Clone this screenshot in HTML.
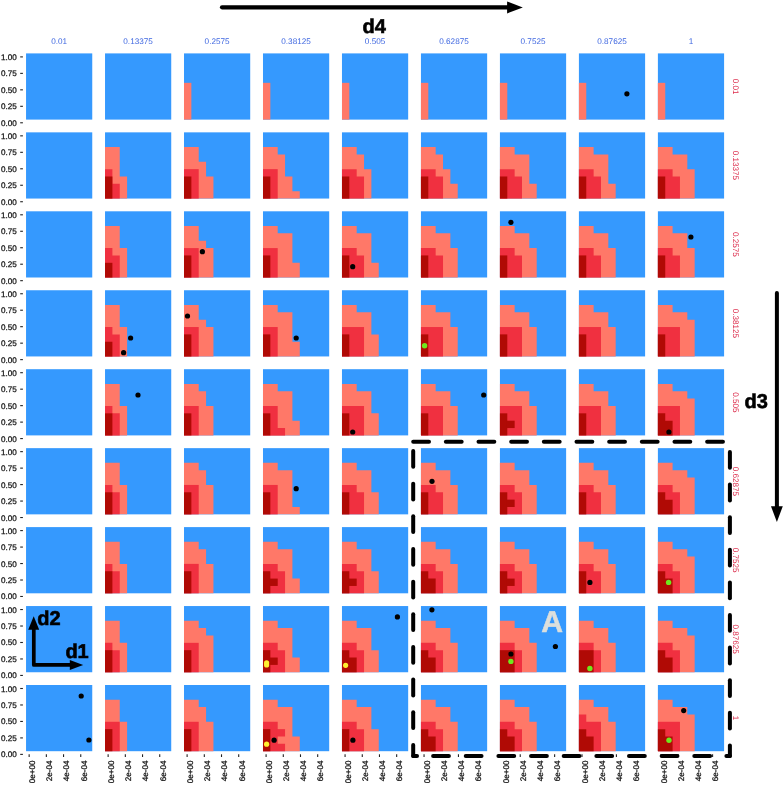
<!DOCTYPE html>
<html><head><meta charset="utf-8"><title>facet grid</title>
<style>html,body{margin:0;padding:0;background:#fff}svg{display:block}text{font-family:"Liberation Sans",Arial,Helvetica,sans-serif;text-rendering:geometricPrecision}</style></head>
<body>
<svg width="784" height="785" viewBox="0 0 784 785">
<rect width="784" height="785" fill="#fff"/>
<rect x="26.05" y="53.4" width="66.2" height="66.2" fill="#3599fe"/>
<rect x="105.03" y="53.4" width="66.2" height="66.2" fill="#3599fe"/>
<rect x="184.01" y="53.4" width="66.2" height="66.2" fill="#3599fe"/>
<path d="M184.01 119.6V82.82H191.37V119.6Z" fill="#ff7868"/>
<rect x="262.99" y="53.4" width="66.2" height="66.2" fill="#3599fe"/>
<path d="M262.99 119.6V82.82H270.35V119.6Z" fill="#ff7868"/>
<rect x="341.97" y="53.4" width="66.2" height="66.2" fill="#3599fe"/>
<path d="M341.97 119.6V82.82H349.33V119.6Z" fill="#ff7868"/>
<rect x="420.95" y="53.4" width="66.2" height="66.2" fill="#3599fe"/>
<path d="M420.95 119.6V82.82H428.31V119.6Z" fill="#ff7868"/>
<rect x="499.93" y="53.4" width="66.2" height="66.2" fill="#3599fe"/>
<path d="M499.93 119.6V82.82H507.29V119.6Z" fill="#ff7868"/>
<rect x="578.91" y="53.4" width="66.2" height="66.2" fill="#3599fe"/>
<path d="M578.91 119.6V82.82H586.27V119.6Z" fill="#ff7868"/>
<rect x="657.89" y="53.4" width="66.2" height="66.2" fill="#3599fe"/>
<path d="M657.89 119.6V82.82H665.25V119.6Z" fill="#ff7868"/>
<rect x="26.05" y="132.35" width="66.2" height="66.2" fill="#3599fe"/>
<rect x="105.03" y="132.35" width="66.2" height="66.2" fill="#3599fe"/>
<path d="M105.03 198.55V147.06H112.39V147.06H119.74V176.48H127.1V198.55Z" fill="#ff7868"/>
<path d="M105.03 198.55V169.13H112.39V183.84H119.74V198.55Z" fill="#f03040"/>
<path d="M105.03 198.55V176.48H112.39V198.55Z" fill="#b00a05"/>
<rect x="184.01" y="132.35" width="66.2" height="66.2" fill="#3599fe"/>
<path d="M184.01 198.55V147.06H191.37V147.06H198.72V161.77H206.08V176.48H213.43V198.55Z" fill="#ff7868"/>
<path d="M184.01 198.55V169.13H191.37V169.13H198.72V198.55Z" fill="#f03040"/>
<path d="M184.01 198.55V176.48H191.37V198.55Z" fill="#b00a05"/>
<rect x="262.99" y="132.35" width="66.2" height="66.2" fill="#3599fe"/>
<path d="M262.99 198.55V147.06H270.35V147.06H277.7V154.42H285.06V176.48H292.41V191.19H299.77V198.55Z" fill="#ff7868"/>
<path d="M262.99 198.55V169.13H270.35V169.13H277.7V198.55Z" fill="#f03040"/>
<path d="M262.99 198.55V176.48H270.35V198.55Z" fill="#b00a05"/>
<rect x="341.97" y="132.35" width="66.2" height="66.2" fill="#3599fe"/>
<path d="M341.97 198.55V147.06H349.33V147.06H356.68V154.42H364.04V169.13H371.39V198.55Z" fill="#ff7868"/>
<path d="M341.97 198.55V169.13H349.33V169.13H356.68V176.48H364.04V198.55Z" fill="#f03040"/>
<path d="M341.97 198.55V176.48H349.33V198.55Z" fill="#b00a05"/>
<rect x="420.95" y="132.35" width="66.2" height="66.2" fill="#3599fe"/>
<path d="M420.95 198.55V147.06H428.31V147.06H435.66V154.42H443.02V169.13H450.37V183.84H457.73V198.55Z" fill="#ff7868"/>
<path d="M420.95 198.55V169.13H428.31V169.13H435.66V176.48H443.02V198.55Z" fill="#f03040"/>
<path d="M420.95 198.55V176.48H428.31V198.55Z" fill="#b00a05"/>
<rect x="499.93" y="132.35" width="66.2" height="66.2" fill="#3599fe"/>
<path d="M499.93 198.55V147.06H507.29V147.06H514.64V154.42H522V154.42H529.35V183.84H536.71V198.55Z" fill="#ff7868"/>
<path d="M499.93 198.55V169.13H507.29V169.13H514.64V176.48H522V198.55Z" fill="#f03040"/>
<path d="M499.93 198.55V176.48H507.29V198.55Z" fill="#b00a05"/>
<rect x="578.91" y="132.35" width="66.2" height="66.2" fill="#3599fe"/>
<path d="M578.91 198.55V147.06H586.27V147.06H593.62V154.42H600.98V154.42H608.33V183.84H615.69V198.55Z" fill="#ff7868"/>
<path d="M578.91 198.55V169.13H586.27V169.13H593.62V176.48H600.98V198.55Z" fill="#f03040"/>
<path d="M578.91 198.55V176.48H586.27V198.55Z" fill="#b00a05"/>
<rect x="657.89" y="132.35" width="66.2" height="66.2" fill="#3599fe"/>
<path d="M657.89 198.55V147.06H665.25V147.06H672.6V154.42H679.96V154.42H687.31V169.13H694.67V198.55Z" fill="#ff7868"/>
<path d="M657.89 198.55V169.13H665.25V169.13H672.6V176.48H679.96V198.55Z" fill="#f03040"/>
<path d="M657.89 198.55V176.48H665.25V198.55Z" fill="#b00a05"/>
<rect x="26.05" y="211.3" width="66.2" height="66.2" fill="#3599fe"/>
<rect x="105.03" y="211.3" width="66.2" height="66.2" fill="#3599fe"/>
<path d="M105.03 277.5V226.01H112.39V226.01H119.74V248.08H127.1V277.5Z" fill="#ff7868"/>
<path d="M105.03 277.5V248.08H112.39V255.43H119.74V277.5Z" fill="#f03040"/>
<path d="M105.03 277.5V262.79H112.39V277.5Z" fill="#b00a05"/>
<rect x="184.01" y="211.3" width="66.2" height="66.2" fill="#3599fe"/>
<path d="M184.01 277.5V226.01H191.37V226.01H198.72V240.72H206.08V248.08H213.43V277.5Z" fill="#ff7868"/>
<path d="M184.01 277.5V248.08H191.37V248.08H198.72V277.5Z" fill="#f03040"/>
<path d="M184.01 277.5V255.43H191.37V277.5Z" fill="#b00a05"/>
<rect x="262.99" y="211.3" width="66.2" height="66.2" fill="#3599fe"/>
<path d="M262.99 277.5V226.01H270.35V226.01H277.7V233.37H285.06V233.37H292.41V262.79H299.77V277.5Z" fill="#ff7868"/>
<path d="M262.99 277.5V248.08H270.35V248.08H277.7V277.5Z" fill="#f03040"/>
<path d="M262.99 277.5V255.43H270.35V277.5Z" fill="#b00a05"/>
<rect x="341.97" y="211.3" width="66.2" height="66.2" fill="#3599fe"/>
<path d="M341.97 277.5V226.01H349.33V226.01H356.68V233.37H364.04V233.37H371.39V262.79H378.75V277.5Z" fill="#ff7868"/>
<path d="M341.97 277.5V248.08H349.33V248.08H356.68V255.43H364.04V277.5Z" fill="#f03040"/>
<path d="M341.97 277.5V255.43H349.33V277.5Z" fill="#b00a05"/>
<rect x="420.95" y="211.3" width="66.2" height="66.2" fill="#3599fe"/>
<path d="M420.95 277.5V226.01H428.31V226.01H435.66V233.37H443.02V233.37H450.37V248.08H457.73V277.5Z" fill="#ff7868"/>
<path d="M420.95 277.5V248.08H428.31V248.08H435.66V255.43H443.02V277.5Z" fill="#f03040"/>
<path d="M420.95 277.5V255.43H428.31V277.5Z" fill="#b00a05"/>
<rect x="499.93" y="211.3" width="66.2" height="66.2" fill="#3599fe"/>
<path d="M499.93 277.5V226.01H507.29V226.01H514.64V233.37H522V233.37H529.35V248.08H536.71V277.5Z" fill="#ff7868"/>
<path d="M499.93 277.5V248.08H507.29V248.08H514.64V255.43H522V277.5Z" fill="#f03040"/>
<path d="M499.93 277.5V255.43H507.29V277.5Z" fill="#b00a05"/>
<rect x="578.91" y="211.3" width="66.2" height="66.2" fill="#3599fe"/>
<path d="M578.91 277.5V226.01H586.27V226.01H593.62V233.37H600.98V233.37H608.33V248.08H615.69V277.5Z" fill="#ff7868"/>
<path d="M578.91 277.5V248.08H586.27V248.08H593.62V255.43H600.98V277.5Z" fill="#f03040"/>
<path d="M578.91 277.5V255.43H586.27V277.5Z" fill="#b00a05"/>
<rect x="657.89" y="211.3" width="66.2" height="66.2" fill="#3599fe"/>
<path d="M657.89 277.5V226.01H665.25V226.01H672.6V233.37H679.96V233.37H687.31V248.08H694.67V277.5Z" fill="#ff7868"/>
<path d="M657.89 277.5V248.08H665.25V248.08H672.6V255.43H679.96V277.5Z" fill="#f03040"/>
<path d="M657.89 277.5V255.43H665.25V277.5Z" fill="#b00a05"/>
<rect x="26.05" y="290.25" width="66.2" height="66.2" fill="#3599fe"/>
<rect x="105.03" y="290.25" width="66.2" height="66.2" fill="#3599fe"/>
<path d="M105.03 356.45V304.96H112.39V304.96H119.74V327.03H127.1V356.45Z" fill="#ff7868"/>
<path d="M105.03 356.45V327.03H112.39V334.38H119.74V356.45Z" fill="#f03040"/>
<path d="M105.03 356.45V341.74H112.39V356.45Z" fill="#b00a05"/>
<rect x="184.01" y="290.25" width="66.2" height="66.2" fill="#3599fe"/>
<path d="M184.01 356.45V304.96H191.37V304.96H198.72V319.67H206.08V327.03H213.43V356.45Z" fill="#ff7868"/>
<path d="M184.01 356.45V327.03H191.37V327.03H198.72V356.45Z" fill="#f03040"/>
<path d="M184.01 356.45V334.38H191.37V356.45Z" fill="#b00a05"/>
<rect x="262.99" y="290.25" width="66.2" height="66.2" fill="#3599fe"/>
<path d="M262.99 356.45V304.96H270.35V304.96H277.7V312.32H285.06V312.32H292.41V341.74H299.77V356.45Z" fill="#ff7868"/>
<path d="M262.99 356.45V327.03H270.35V327.03H277.7V356.45Z" fill="#f03040"/>
<path d="M262.99 356.45V334.38H270.35V356.45Z" fill="#b00a05"/>
<rect x="341.97" y="290.25" width="66.2" height="66.2" fill="#3599fe"/>
<path d="M341.97 356.45V304.96H349.33V304.96H356.68V312.32H364.04V312.32H371.39V334.38H378.75V356.45Z" fill="#ff7868"/>
<path d="M341.97 356.45V327.03H349.33V327.03H356.68V327.03H364.04V356.45Z" fill="#f03040"/>
<path d="M341.97 356.45V334.38H349.33V356.45Z" fill="#b00a05"/>
<rect x="420.95" y="290.25" width="66.2" height="66.2" fill="#3599fe"/>
<path d="M420.95 356.45V304.96H428.31V304.96H435.66V312.32H443.02V312.32H450.37V327.03H457.73V356.45Z" fill="#ff7868"/>
<path d="M420.95 356.45V327.03H428.31V327.03H435.66V327.03H443.02V356.45Z" fill="#f03040"/>
<path d="M420.95 356.45V334.38H428.31V356.45Z" fill="#b00a05"/>
<rect x="499.93" y="290.25" width="66.2" height="66.2" fill="#3599fe"/>
<path d="M499.93 356.45V304.96H507.29V304.96H514.64V312.32H522V312.32H529.35V327.03H536.71V356.45Z" fill="#ff7868"/>
<path d="M499.93 356.45V327.03H507.29V327.03H514.64V327.03H522V356.45Z" fill="#f03040"/>
<path d="M499.93 356.45V334.38H507.29V356.45Z" fill="#b00a05"/>
<rect x="578.91" y="290.25" width="66.2" height="66.2" fill="#3599fe"/>
<path d="M578.91 356.45V304.96H586.27V304.96H593.62V312.32H600.98V312.32H608.33V327.03H615.69V356.45Z" fill="#ff7868"/>
<path d="M578.91 356.45V327.03H586.27V327.03H593.62V327.03H600.98V356.45Z" fill="#f03040"/>
<path d="M578.91 356.45V334.38H586.27V356.45Z" fill="#b00a05"/>
<rect x="657.89" y="290.25" width="66.2" height="66.2" fill="#3599fe"/>
<path d="M657.89 356.45V304.96H665.25V304.96H672.6V312.32H679.96V312.32H687.31V319.67H694.67V356.45Z" fill="#ff7868"/>
<path d="M657.89 356.45V327.03H665.25V327.03H672.6V327.03H679.96V356.45Z" fill="#f03040"/>
<path d="M657.89 356.45V334.38H665.25V356.45Z" fill="#b00a05"/>
<rect x="26.05" y="369.2" width="66.2" height="66.2" fill="#3599fe"/>
<rect x="105.03" y="369.2" width="66.2" height="66.2" fill="#3599fe"/>
<path d="M105.03 435.4V383.91H112.39V383.91H119.74V405.98H127.1V435.4Z" fill="#ff7868"/>
<path d="M105.03 435.4V405.98H112.39V413.33H119.74V435.4Z" fill="#f03040"/>
<path d="M105.03 435.4V413.33H112.39V435.4Z" fill="#b00a05"/>
<rect x="184.01" y="369.2" width="66.2" height="66.2" fill="#3599fe"/>
<path d="M184.01 435.4V383.91H191.37V383.91H198.72V391.27H206.08V405.98H213.43V435.4Z" fill="#ff7868"/>
<path d="M184.01 435.4V405.98H191.37V405.98H198.72V435.4Z" fill="#f03040"/>
<path d="M184.01 435.4V413.33H191.37V435.4Z" fill="#b00a05"/>
<rect x="262.99" y="369.2" width="66.2" height="66.2" fill="#3599fe"/>
<path d="M262.99 435.4V383.91H270.35V383.91H277.7V391.27H285.06V391.27H292.41V420.69H299.77V435.4Z" fill="#ff7868"/>
<path d="M262.99 435.4V405.98H270.35V405.98H277.7V428.04H285.06V435.4Z" fill="#f03040"/>
<path d="M262.99 435.4V413.33H270.35V435.4Z" fill="#b00a05"/>
<rect x="341.97" y="369.2" width="66.2" height="66.2" fill="#3599fe"/>
<path d="M341.97 435.4V383.91H349.33V383.91H356.68V391.27H364.04V391.27H371.39V413.33H378.75V435.4Z" fill="#ff7868"/>
<path d="M341.97 435.4V405.98H349.33V405.98H356.68V405.98H364.04V435.4Z" fill="#f03040"/>
<path d="M341.97 435.4V413.33H349.33V435.4Z" fill="#b00a05"/>
<rect x="420.95" y="369.2" width="66.2" height="66.2" fill="#3599fe"/>
<path d="M420.95 435.4V383.91H428.31V383.91H435.66V391.27H443.02V391.27H450.37V405.98H457.73V435.4Z" fill="#ff7868"/>
<path d="M420.95 435.4V405.98H428.31V405.98H435.66V405.98H443.02V435.4Z" fill="#f03040"/>
<path d="M420.95 435.4V413.33H428.31V435.4Z" fill="#b00a05"/>
<rect x="499.93" y="369.2" width="66.2" height="66.2" fill="#3599fe"/>
<path d="M499.93 435.4V383.91H507.29V383.91H514.64V391.27H522V391.27H529.35V405.98H536.71V435.4Z" fill="#ff7868"/>
<path d="M499.93 435.4V405.98H507.29V405.98H514.64V405.98H522V435.4Z" fill="#f03040"/>
<path d="M499.93 435.4V413.33H507.29V435.4Z" fill="#b00a05"/>
<rect x="506.29" y="420.69" width="8.36" height="7.36" fill="#b00a05"/>
<rect x="578.91" y="369.2" width="66.2" height="66.2" fill="#3599fe"/>
<path d="M578.91 435.4V383.91H586.27V383.91H593.62V391.27H600.98V391.27H608.33V405.98H615.69V435.4Z" fill="#ff7868"/>
<path d="M578.91 435.4V405.98H586.27V405.98H593.62V405.98H600.98V435.4Z" fill="#f03040"/>
<path d="M578.91 435.4V413.33H586.27V435.4Z" fill="#b00a05"/>
<rect x="657.89" y="369.2" width="66.2" height="66.2" fill="#3599fe"/>
<path d="M657.89 435.4V383.91H665.25V383.91H672.6V391.27H679.96V391.27H687.31V398.62H694.67V435.4Z" fill="#ff7868"/>
<path d="M657.89 435.4V405.98H665.25V405.98H672.6V405.98H679.96V435.4Z" fill="#f03040"/>
<path d="M657.89 435.4V413.33H665.25V420.69H672.6V435.4Z" fill="#b00a05"/>
<rect x="26.05" y="448.15" width="66.2" height="66.2" fill="#3599fe"/>
<rect x="105.03" y="448.15" width="66.2" height="66.2" fill="#3599fe"/>
<path d="M105.03 514.35V462.86H112.39V462.86H119.74V484.93H127.1V514.35Z" fill="#ff7868"/>
<path d="M105.03 514.35V484.93H112.39V492.28H119.74V514.35Z" fill="#f03040"/>
<path d="M105.03 514.35V492.28H112.39V514.35Z" fill="#b00a05"/>
<rect x="184.01" y="448.15" width="66.2" height="66.2" fill="#3599fe"/>
<path d="M184.01 514.35V462.86H191.37V462.86H198.72V470.22H206.08V484.93H213.43V514.35Z" fill="#ff7868"/>
<path d="M184.01 514.35V484.93H191.37V484.93H198.72V514.35Z" fill="#f03040"/>
<path d="M184.01 514.35V492.28H191.37V514.35Z" fill="#b00a05"/>
<rect x="262.99" y="448.15" width="66.2" height="66.2" fill="#3599fe"/>
<path d="M262.99 514.35V462.86H270.35V462.86H277.7V470.22H285.06V470.22H292.41V506.99H299.77V514.35Z" fill="#ff7868"/>
<path d="M262.99 514.35V484.93H270.35V484.93H277.7V514.35Z" fill="#f03040"/>
<path d="M262.99 514.35V492.28H270.35V514.35Z" fill="#b00a05"/>
<rect x="341.97" y="448.15" width="66.2" height="66.2" fill="#3599fe"/>
<path d="M341.97 514.35V462.86H349.33V462.86H356.68V470.22H364.04V470.22H371.39V492.28H378.75V514.35Z" fill="#ff7868"/>
<path d="M341.97 514.35V484.93H349.33V484.93H356.68V492.28H364.04V514.35Z" fill="#f03040"/>
<path d="M341.97 514.35V492.28H349.33V514.35Z" fill="#b00a05"/>
<rect x="420.95" y="448.15" width="66.2" height="66.2" fill="#3599fe"/>
<path d="M420.95 514.35V462.86H428.31V462.86H435.66V470.22H443.02V470.22H450.37V484.93H457.73V514.35Z" fill="#ff7868"/>
<path d="M420.95 514.35V484.93H428.31V484.93H435.66V492.28H443.02V514.35Z" fill="#f03040"/>
<path d="M420.95 514.35V492.28H428.31V514.35Z" fill="#b00a05"/>
<rect x="499.93" y="448.15" width="66.2" height="66.2" fill="#3599fe"/>
<path d="M499.93 514.35V462.86H507.29V462.86H514.64V470.22H522V470.22H529.35V484.93H536.71V514.35Z" fill="#ff7868"/>
<path d="M499.93 514.35V484.93H507.29V484.93H514.64V492.28H522V514.35Z" fill="#f03040"/>
<path d="M499.93 514.35V492.28H507.29V514.35Z" fill="#b00a05"/>
<rect x="506.29" y="499.64" width="8.36" height="7.36" fill="#b00a05"/>
<rect x="578.91" y="448.15" width="66.2" height="66.2" fill="#3599fe"/>
<path d="M578.91 514.35V462.86H586.27V462.86H593.62V470.22H600.98V470.22H608.33V484.93H615.69V514.35Z" fill="#ff7868"/>
<path d="M578.91 514.35V484.93H586.27V484.93H593.62V492.28H600.98V514.35Z" fill="#f03040"/>
<path d="M578.91 514.35V492.28H586.27V514.35Z" fill="#b00a05"/>
<rect x="657.89" y="448.15" width="66.2" height="66.2" fill="#3599fe"/>
<path d="M657.89 514.35V462.86H665.25V462.86H672.6V470.22H679.96V470.22H687.31V477.57H694.67V514.35Z" fill="#ff7868"/>
<path d="M657.89 514.35V484.93H665.25V484.93H672.6V492.28H679.96V514.35Z" fill="#f03040"/>
<path d="M657.89 514.35V492.28H665.25V499.64H672.6V514.35Z" fill="#b00a05"/>
<rect x="26.05" y="527.1" width="66.2" height="66.2" fill="#3599fe"/>
<rect x="105.03" y="527.1" width="66.2" height="66.2" fill="#3599fe"/>
<path d="M105.03 593.3V541.81H112.39V541.81H119.74V563.88H127.1V593.3Z" fill="#ff7868"/>
<path d="M105.03 593.3V563.88H112.39V571.23H119.74V593.3Z" fill="#f03040"/>
<path d="M105.03 593.3V571.23H112.39V593.3Z" fill="#b00a05"/>
<rect x="184.01" y="527.1" width="66.2" height="66.2" fill="#3599fe"/>
<path d="M184.01 593.3V541.81H191.37V541.81H198.72V549.17H206.08V563.88H213.43V593.3Z" fill="#ff7868"/>
<path d="M184.01 593.3V563.88H191.37V563.88H198.72V593.3Z" fill="#f03040"/>
<path d="M184.01 593.3V571.23H191.37V593.3Z" fill="#b00a05"/>
<rect x="262.99" y="527.1" width="66.2" height="66.2" fill="#3599fe"/>
<path d="M262.99 593.3V541.81H270.35V541.81H277.7V549.17H285.06V549.17H292.41V578.59H299.77V593.3Z" fill="#ff7868"/>
<path d="M262.99 593.3V563.88H270.35V563.88H277.7V571.23H285.06V593.3Z" fill="#f03040"/>
<path d="M262.99 593.3V571.23H270.35V593.3Z" fill="#b00a05"/>
<rect x="269.35" y="578.59" width="8.36" height="7.36" fill="#b00a05"/>
<rect x="341.97" y="527.1" width="66.2" height="66.2" fill="#3599fe"/>
<path d="M341.97 593.3V541.81H349.33V541.81H356.68V549.17H364.04V549.17H371.39V571.23H378.75V593.3Z" fill="#ff7868"/>
<path d="M341.97 593.3V563.88H349.33V563.88H356.68V571.23H364.04V593.3Z" fill="#f03040"/>
<path d="M341.97 593.3V571.23H349.33V593.3Z" fill="#b00a05"/>
<rect x="348.33" y="578.59" width="8.36" height="7.36" fill="#b00a05"/>
<rect x="420.95" y="527.1" width="66.2" height="66.2" fill="#3599fe"/>
<path d="M420.95 593.3V541.81H428.31V541.81H435.66V549.17H443.02V549.17H450.37V563.88H457.73V593.3Z" fill="#ff7868"/>
<path d="M420.95 593.3V563.88H428.31V563.88H435.66V571.23H443.02V593.3Z" fill="#f03040"/>
<path d="M420.95 593.3V571.23H428.31V578.59H435.66V593.3Z" fill="#b00a05"/>
<rect x="499.93" y="527.1" width="66.2" height="66.2" fill="#3599fe"/>
<path d="M499.93 593.3V541.81H507.29V541.81H514.64V549.17H522V549.17H529.35V563.88H536.71V593.3Z" fill="#ff7868"/>
<path d="M499.93 593.3V563.88H507.29V563.88H514.64V571.23H522V593.3Z" fill="#f03040"/>
<path d="M499.93 593.3V571.23H507.29V593.3Z" fill="#b00a05"/>
<rect x="506.29" y="578.59" width="8.36" height="7.36" fill="#b00a05"/>
<rect x="578.91" y="527.1" width="66.2" height="66.2" fill="#3599fe"/>
<path d="M578.91 593.3V541.81H586.27V541.81H593.62V549.17H600.98V549.17H608.33V563.88H615.69V593.3Z" fill="#ff7868"/>
<path d="M578.91 593.3V563.88H586.27V563.88H593.62V571.23H600.98V593.3Z" fill="#f03040"/>
<path d="M578.91 593.3V571.23H586.27V593.3Z" fill="#b00a05"/>
<rect x="657.89" y="527.1" width="66.2" height="66.2" fill="#3599fe"/>
<path d="M657.89 593.3V541.81H665.25V541.81H672.6V549.17H679.96V549.17H687.31V556.52H694.67V593.3Z" fill="#ff7868"/>
<path d="M657.89 593.3V563.88H665.25V563.88H672.6V571.23H679.96V593.3Z" fill="#f03040"/>
<path d="M657.89 593.3V571.23H665.25V578.59H672.6V593.3Z" fill="#b00a05"/>
<rect x="26.05" y="606.05" width="66.2" height="66.2" fill="#3599fe"/>
<rect x="105.03" y="606.05" width="66.2" height="66.2" fill="#3599fe"/>
<path d="M105.03 672.25V620.76H112.39V620.76H119.74V642.83H127.1V672.25Z" fill="#ff7868"/>
<path d="M105.03 672.25V642.83H112.39V650.18H119.74V672.25Z" fill="#f03040"/>
<path d="M105.03 672.25V650.18H112.39V672.25Z" fill="#b00a05"/>
<rect x="184.01" y="606.05" width="66.2" height="66.2" fill="#3599fe"/>
<path d="M184.01 672.25V620.76H191.37V620.76H198.72V628.12H206.08V635.47H213.43V672.25Z" fill="#ff7868"/>
<path d="M184.01 672.25V642.83H191.37V642.83H198.72V672.25Z" fill="#f03040"/>
<path d="M184.01 672.25V650.18H191.37V672.25Z" fill="#b00a05"/>
<rect x="262.99" y="606.05" width="66.2" height="66.2" fill="#3599fe"/>
<path d="M262.99 672.25V620.76H270.35V620.76H277.7V628.12H285.06V628.12H292.41V657.54H299.77V672.25Z" fill="#ff7868"/>
<path d="M262.99 672.25V642.83H270.35V642.83H277.7V650.18H285.06V672.25Z" fill="#f03040"/>
<path d="M262.99 672.25V650.18H270.35V672.25Z" fill="#b00a05"/>
<rect x="269.35" y="657.54" width="8.36" height="7.36" fill="#b00a05"/>
<rect x="341.97" y="606.05" width="66.2" height="66.2" fill="#3599fe"/>
<path d="M341.97 672.25V620.76H349.33V620.76H356.68V628.12H364.04V628.12H371.39V650.18H378.75V672.25Z" fill="#ff7868"/>
<path d="M341.97 672.25V642.83H349.33V642.83H356.68V650.18H364.04V672.25Z" fill="#f03040"/>
<path d="M341.97 672.25V650.18H349.33V657.54H356.68V672.25Z" fill="#b00a05"/>
<rect x="420.95" y="606.05" width="66.2" height="66.2" fill="#3599fe"/>
<path d="M420.95 672.25V620.76H428.31V620.76H435.66V628.12H443.02V628.12H450.37V642.83H457.73V672.25Z" fill="#ff7868"/>
<path d="M420.95 672.25V642.83H428.31V642.83H435.66V650.18H443.02V672.25Z" fill="#f03040"/>
<path d="M420.95 672.25V650.18H428.31V657.54H435.66V672.25Z" fill="#b00a05"/>
<rect x="499.93" y="606.05" width="66.2" height="66.2" fill="#3599fe"/>
<path d="M499.93 672.25V620.76H507.29V620.76H514.64V628.12H522V628.12H529.35V642.83H536.71V672.25Z" fill="#ff7868"/>
<path d="M499.93 672.25V642.83H507.29V642.83H514.64V650.18H522V672.25Z" fill="#f03040"/>
<path d="M499.93 672.25V650.18H507.29V650.18H514.64V672.25Z" fill="#b00a05"/>
<rect x="578.91" y="606.05" width="66.2" height="66.2" fill="#3599fe"/>
<path d="M578.91 672.25V620.76H586.27V620.76H593.62V628.12H600.98V628.12H608.33V642.83H615.69V672.25Z" fill="#ff7868"/>
<path d="M578.91 672.25V642.83H586.27V642.83H593.62V650.18H600.98V672.25Z" fill="#f03040"/>
<path d="M578.91 672.25V650.18H586.27V650.18H593.62V672.25Z" fill="#b00a05"/>
<rect x="657.89" y="606.05" width="66.2" height="66.2" fill="#3599fe"/>
<path d="M657.89 672.25V620.76H665.25V620.76H672.6V628.12H679.96V628.12H687.31V635.47H694.67V672.25Z" fill="#ff7868"/>
<path d="M657.89 672.25V642.83H665.25V642.83H672.6V650.18H679.96V672.25Z" fill="#f03040"/>
<path d="M657.89 672.25V650.18H665.25V657.54H672.6V672.25Z" fill="#b00a05"/>
<rect x="26.05" y="685" width="66.2" height="66.2" fill="#3599fe"/>
<rect x="105.03" y="685" width="66.2" height="66.2" fill="#3599fe"/>
<path d="M105.03 751.2V699.71H112.39V699.71H119.74V721.78H127.1V751.2Z" fill="#ff7868"/>
<path d="M105.03 751.2V721.78H112.39V721.78H119.74V751.2Z" fill="#f03040"/>
<path d="M105.03 751.2V729.13H112.39V751.2Z" fill="#b00a05"/>
<rect x="184.01" y="685" width="66.2" height="66.2" fill="#3599fe"/>
<path d="M184.01 751.2V699.71H191.37V699.71H198.72V707.07H206.08V721.78H213.43V751.2Z" fill="#ff7868"/>
<path d="M184.01 751.2V721.78H191.37V721.78H198.72V751.2Z" fill="#f03040"/>
<path d="M184.01 751.2V729.13H191.37V751.2Z" fill="#b00a05"/>
<rect x="262.99" y="685" width="66.2" height="66.2" fill="#3599fe"/>
<path d="M262.99 751.2V699.71H270.35V699.71H277.7V707.07H285.06V707.07H292.41V736.49H299.77V751.2Z" fill="#ff7868"/>
<path d="M262.99 751.2V721.78H270.35V721.78H277.7V743.84H285.06V751.2Z" fill="#f03040"/>
<rect x="276.7" y="729.13" width="8.36" height="7.36" fill="#f03040"/>
<path d="M262.99 751.2V729.13H270.35V751.2Z" fill="#b00a05"/>
<rect x="341.97" y="685" width="66.2" height="66.2" fill="#3599fe"/>
<path d="M341.97 751.2V699.71H349.33V699.71H356.68V707.07H364.04V707.07H371.39V729.13H378.75V751.2Z" fill="#ff7868"/>
<path d="M341.97 751.2V721.78H349.33V721.78H356.68V729.13H364.04V751.2Z" fill="#f03040"/>
<path d="M341.97 751.2V729.13H349.33V751.2Z" fill="#b00a05"/>
<rect x="420.95" y="685" width="66.2" height="66.2" fill="#3599fe"/>
<path d="M420.95 751.2V699.71H428.31V699.71H435.66V707.07H443.02V707.07H450.37V721.78H457.73V751.2Z" fill="#ff7868"/>
<path d="M420.95 751.2V721.78H428.31V721.78H435.66V729.13H443.02V751.2Z" fill="#f03040"/>
<path d="M420.95 751.2V729.13H428.31V736.49H435.66V751.2Z" fill="#b00a05"/>
<rect x="499.93" y="685" width="66.2" height="66.2" fill="#3599fe"/>
<path d="M499.93 751.2V699.71H507.29V699.71H514.64V707.07H522V707.07H529.35V721.78H536.71V751.2Z" fill="#ff7868"/>
<path d="M499.93 751.2V721.78H507.29V721.78H514.64V729.13H522V751.2Z" fill="#f03040"/>
<path d="M499.93 751.2V729.13H507.29V736.49H514.64V751.2Z" fill="#b00a05"/>
<rect x="578.91" y="685" width="66.2" height="66.2" fill="#3599fe"/>
<path d="M578.91 751.2V699.71H586.27V699.71H593.62V707.07H600.98V707.07H608.33V721.78H615.69V751.2Z" fill="#ff7868"/>
<path d="M578.91 751.2V714.42H586.27V721.78H593.62V721.78H600.98V751.2Z" fill="#f03040"/>
<path d="M578.91 751.2V729.13H586.27V736.49H593.62V751.2Z" fill="#b00a05"/>
<rect x="657.89" y="685" width="66.2" height="66.2" fill="#3599fe"/>
<path d="M657.89 751.2V699.71H665.25V699.71H672.6V707.07H679.96V707.07H687.31V714.42H694.67V751.2Z" fill="#ff7868"/>
<path d="M657.89 751.2V721.78H665.25V721.78H672.6V721.78H679.96V751.2Z" fill="#f03040"/>
<path d="M657.89 751.2V729.13H665.25V736.49H672.6V751.2Z" fill="#b00a05"/>
<text x="59.15" y="43.9" font-size="8.2" fill="#4169e1" text-anchor="middle">0.01</text>
<text x="138.13" y="43.9" font-size="8.2" fill="#4169e1" text-anchor="middle">0.13375</text>
<text x="217.11" y="43.9" font-size="8.2" fill="#4169e1" text-anchor="middle">0.2575</text>
<text x="296.09" y="43.9" font-size="8.2" fill="#4169e1" text-anchor="middle">0.38125</text>
<text x="375.07" y="43.9" font-size="8.2" fill="#4169e1" text-anchor="middle">0.505</text>
<text x="454.05" y="43.9" font-size="8.2" fill="#4169e1" text-anchor="middle">0.62875</text>
<text x="533.03" y="43.9" font-size="8.2" fill="#4169e1" text-anchor="middle">0.7525</text>
<text x="612.01" y="43.9" font-size="8.2" fill="#4169e1" text-anchor="middle">0.87625</text>
<text x="690.99" y="43.9" font-size="8.2" fill="#4169e1" text-anchor="middle">1</text>
<text transform="translate(733.2 86.5) rotate(90)" font-size="8.1" fill="#dc2a4a" text-anchor="middle">0.01</text>
<text transform="translate(733.2 165.45) rotate(90)" font-size="8.1" fill="#dc2a4a" text-anchor="middle">0.13375</text>
<text transform="translate(733.2 244.4) rotate(90)" font-size="8.1" fill="#dc2a4a" text-anchor="middle">0.2575</text>
<text transform="translate(733.2 323.35) rotate(90)" font-size="8.1" fill="#dc2a4a" text-anchor="middle">0.38125</text>
<text transform="translate(733.2 402.3) rotate(90)" font-size="8.1" fill="#dc2a4a" text-anchor="middle">0.505</text>
<text transform="translate(733.2 481.25) rotate(90)" font-size="8.1" fill="#dc2a4a" text-anchor="middle">0.62875</text>
<text transform="translate(733.2 560.2) rotate(90)" font-size="8.1" fill="#dc2a4a" text-anchor="middle">0.7525</text>
<text transform="translate(733.2 639.15) rotate(90)" font-size="8.1" fill="#dc2a4a" text-anchor="middle">0.87625</text>
<text transform="translate(733.2 718.1) rotate(90)" font-size="8.1" fill="#dc2a4a" text-anchor="middle">1</text>
<text x="16.8" y="59.9" font-size="8.1" fill="#111" stroke="#111" stroke-width="0.25" text-anchor="end">1.00</text>
<line x1="20.2" x2="22.9" y1="56.9" y2="56.9" stroke="#222" stroke-width="1.1"/>
<text x="16.8" y="76.37" font-size="8.1" fill="#111" stroke="#111" stroke-width="0.25" text-anchor="end">0.75</text>
<line x1="20.2" x2="22.9" y1="73.37" y2="73.37" stroke="#222" stroke-width="1.1"/>
<text x="16.8" y="92.84" font-size="8.1" fill="#111" stroke="#111" stroke-width="0.25" text-anchor="end">0.50</text>
<line x1="20.2" x2="22.9" y1="89.84" y2="89.84" stroke="#222" stroke-width="1.1"/>
<text x="16.8" y="109.31" font-size="8.1" fill="#111" stroke="#111" stroke-width="0.25" text-anchor="end">0.25</text>
<line x1="20.2" x2="22.9" y1="106.31" y2="106.31" stroke="#222" stroke-width="1.1"/>
<text x="16.8" y="125.78" font-size="8.1" fill="#111" stroke="#111" stroke-width="0.25" text-anchor="end">0.00</text>
<line x1="20.2" x2="22.9" y1="122.78" y2="122.78" stroke="#222" stroke-width="1.1"/>
<text x="16.8" y="138.85" font-size="8.1" fill="#111" stroke="#111" stroke-width="0.25" text-anchor="end">1.00</text>
<line x1="20.2" x2="22.9" y1="135.85" y2="135.85" stroke="#222" stroke-width="1.1"/>
<text x="16.8" y="155.32" font-size="8.1" fill="#111" stroke="#111" stroke-width="0.25" text-anchor="end">0.75</text>
<line x1="20.2" x2="22.9" y1="152.32" y2="152.32" stroke="#222" stroke-width="1.1"/>
<text x="16.8" y="171.79" font-size="8.1" fill="#111" stroke="#111" stroke-width="0.25" text-anchor="end">0.50</text>
<line x1="20.2" x2="22.9" y1="168.79" y2="168.79" stroke="#222" stroke-width="1.1"/>
<text x="16.8" y="188.26" font-size="8.1" fill="#111" stroke="#111" stroke-width="0.25" text-anchor="end">0.25</text>
<line x1="20.2" x2="22.9" y1="185.26" y2="185.26" stroke="#222" stroke-width="1.1"/>
<text x="16.8" y="204.73" font-size="8.1" fill="#111" stroke="#111" stroke-width="0.25" text-anchor="end">0.00</text>
<line x1="20.2" x2="22.9" y1="201.73" y2="201.73" stroke="#222" stroke-width="1.1"/>
<text x="16.8" y="217.8" font-size="8.1" fill="#111" stroke="#111" stroke-width="0.25" text-anchor="end">1.00</text>
<line x1="20.2" x2="22.9" y1="214.8" y2="214.8" stroke="#222" stroke-width="1.1"/>
<text x="16.8" y="234.27" font-size="8.1" fill="#111" stroke="#111" stroke-width="0.25" text-anchor="end">0.75</text>
<line x1="20.2" x2="22.9" y1="231.27" y2="231.27" stroke="#222" stroke-width="1.1"/>
<text x="16.8" y="250.74" font-size="8.1" fill="#111" stroke="#111" stroke-width="0.25" text-anchor="end">0.50</text>
<line x1="20.2" x2="22.9" y1="247.74" y2="247.74" stroke="#222" stroke-width="1.1"/>
<text x="16.8" y="267.21" font-size="8.1" fill="#111" stroke="#111" stroke-width="0.25" text-anchor="end">0.25</text>
<line x1="20.2" x2="22.9" y1="264.21" y2="264.21" stroke="#222" stroke-width="1.1"/>
<text x="16.8" y="283.68" font-size="8.1" fill="#111" stroke="#111" stroke-width="0.25" text-anchor="end">0.00</text>
<line x1="20.2" x2="22.9" y1="280.68" y2="280.68" stroke="#222" stroke-width="1.1"/>
<text x="16.8" y="296.75" font-size="8.1" fill="#111" stroke="#111" stroke-width="0.25" text-anchor="end">1.00</text>
<line x1="20.2" x2="22.9" y1="293.75" y2="293.75" stroke="#222" stroke-width="1.1"/>
<text x="16.8" y="313.22" font-size="8.1" fill="#111" stroke="#111" stroke-width="0.25" text-anchor="end">0.75</text>
<line x1="20.2" x2="22.9" y1="310.22" y2="310.22" stroke="#222" stroke-width="1.1"/>
<text x="16.8" y="329.69" font-size="8.1" fill="#111" stroke="#111" stroke-width="0.25" text-anchor="end">0.50</text>
<line x1="20.2" x2="22.9" y1="326.69" y2="326.69" stroke="#222" stroke-width="1.1"/>
<text x="16.8" y="346.16" font-size="8.1" fill="#111" stroke="#111" stroke-width="0.25" text-anchor="end">0.25</text>
<line x1="20.2" x2="22.9" y1="343.16" y2="343.16" stroke="#222" stroke-width="1.1"/>
<text x="16.8" y="362.63" font-size="8.1" fill="#111" stroke="#111" stroke-width="0.25" text-anchor="end">0.00</text>
<line x1="20.2" x2="22.9" y1="359.63" y2="359.63" stroke="#222" stroke-width="1.1"/>
<text x="16.8" y="375.7" font-size="8.1" fill="#111" stroke="#111" stroke-width="0.25" text-anchor="end">1.00</text>
<line x1="20.2" x2="22.9" y1="372.7" y2="372.7" stroke="#222" stroke-width="1.1"/>
<text x="16.8" y="392.17" font-size="8.1" fill="#111" stroke="#111" stroke-width="0.25" text-anchor="end">0.75</text>
<line x1="20.2" x2="22.9" y1="389.17" y2="389.17" stroke="#222" stroke-width="1.1"/>
<text x="16.8" y="408.64" font-size="8.1" fill="#111" stroke="#111" stroke-width="0.25" text-anchor="end">0.50</text>
<line x1="20.2" x2="22.9" y1="405.64" y2="405.64" stroke="#222" stroke-width="1.1"/>
<text x="16.8" y="425.11" font-size="8.1" fill="#111" stroke="#111" stroke-width="0.25" text-anchor="end">0.25</text>
<line x1="20.2" x2="22.9" y1="422.11" y2="422.11" stroke="#222" stroke-width="1.1"/>
<text x="16.8" y="441.58" font-size="8.1" fill="#111" stroke="#111" stroke-width="0.25" text-anchor="end">0.00</text>
<line x1="20.2" x2="22.9" y1="438.58" y2="438.58" stroke="#222" stroke-width="1.1"/>
<text x="16.8" y="454.65" font-size="8.1" fill="#111" stroke="#111" stroke-width="0.25" text-anchor="end">1.00</text>
<line x1="20.2" x2="22.9" y1="451.65" y2="451.65" stroke="#222" stroke-width="1.1"/>
<text x="16.8" y="471.12" font-size="8.1" fill="#111" stroke="#111" stroke-width="0.25" text-anchor="end">0.75</text>
<line x1="20.2" x2="22.9" y1="468.12" y2="468.12" stroke="#222" stroke-width="1.1"/>
<text x="16.8" y="487.59" font-size="8.1" fill="#111" stroke="#111" stroke-width="0.25" text-anchor="end">0.50</text>
<line x1="20.2" x2="22.9" y1="484.59" y2="484.59" stroke="#222" stroke-width="1.1"/>
<text x="16.8" y="504.06" font-size="8.1" fill="#111" stroke="#111" stroke-width="0.25" text-anchor="end">0.25</text>
<line x1="20.2" x2="22.9" y1="501.06" y2="501.06" stroke="#222" stroke-width="1.1"/>
<text x="16.8" y="520.53" font-size="8.1" fill="#111" stroke="#111" stroke-width="0.25" text-anchor="end">0.00</text>
<line x1="20.2" x2="22.9" y1="517.53" y2="517.53" stroke="#222" stroke-width="1.1"/>
<text x="16.8" y="533.6" font-size="8.1" fill="#111" stroke="#111" stroke-width="0.25" text-anchor="end">1.00</text>
<line x1="20.2" x2="22.9" y1="530.6" y2="530.6" stroke="#222" stroke-width="1.1"/>
<text x="16.8" y="550.07" font-size="8.1" fill="#111" stroke="#111" stroke-width="0.25" text-anchor="end">0.75</text>
<line x1="20.2" x2="22.9" y1="547.07" y2="547.07" stroke="#222" stroke-width="1.1"/>
<text x="16.8" y="566.54" font-size="8.1" fill="#111" stroke="#111" stroke-width="0.25" text-anchor="end">0.50</text>
<line x1="20.2" x2="22.9" y1="563.54" y2="563.54" stroke="#222" stroke-width="1.1"/>
<text x="16.8" y="583.01" font-size="8.1" fill="#111" stroke="#111" stroke-width="0.25" text-anchor="end">0.25</text>
<line x1="20.2" x2="22.9" y1="580.01" y2="580.01" stroke="#222" stroke-width="1.1"/>
<text x="16.8" y="599.48" font-size="8.1" fill="#111" stroke="#111" stroke-width="0.25" text-anchor="end">0.00</text>
<line x1="20.2" x2="22.9" y1="596.48" y2="596.48" stroke="#222" stroke-width="1.1"/>
<text x="16.8" y="612.55" font-size="8.1" fill="#111" stroke="#111" stroke-width="0.25" text-anchor="end">1.00</text>
<line x1="20.2" x2="22.9" y1="609.55" y2="609.55" stroke="#222" stroke-width="1.1"/>
<text x="16.8" y="629.02" font-size="8.1" fill="#111" stroke="#111" stroke-width="0.25" text-anchor="end">0.75</text>
<line x1="20.2" x2="22.9" y1="626.02" y2="626.02" stroke="#222" stroke-width="1.1"/>
<text x="16.8" y="645.49" font-size="8.1" fill="#111" stroke="#111" stroke-width="0.25" text-anchor="end">0.50</text>
<line x1="20.2" x2="22.9" y1="642.49" y2="642.49" stroke="#222" stroke-width="1.1"/>
<text x="16.8" y="661.96" font-size="8.1" fill="#111" stroke="#111" stroke-width="0.25" text-anchor="end">0.25</text>
<line x1="20.2" x2="22.9" y1="658.96" y2="658.96" stroke="#222" stroke-width="1.1"/>
<text x="16.8" y="678.43" font-size="8.1" fill="#111" stroke="#111" stroke-width="0.25" text-anchor="end">0.00</text>
<line x1="20.2" x2="22.9" y1="675.43" y2="675.43" stroke="#222" stroke-width="1.1"/>
<text x="16.8" y="691.5" font-size="8.1" fill="#111" stroke="#111" stroke-width="0.25" text-anchor="end">1.00</text>
<line x1="20.2" x2="22.9" y1="688.5" y2="688.5" stroke="#222" stroke-width="1.1"/>
<text x="16.8" y="707.97" font-size="8.1" fill="#111" stroke="#111" stroke-width="0.25" text-anchor="end">0.75</text>
<line x1="20.2" x2="22.9" y1="704.97" y2="704.97" stroke="#222" stroke-width="1.1"/>
<text x="16.8" y="724.44" font-size="8.1" fill="#111" stroke="#111" stroke-width="0.25" text-anchor="end">0.50</text>
<line x1="20.2" x2="22.9" y1="721.44" y2="721.44" stroke="#222" stroke-width="1.1"/>
<text x="16.8" y="740.91" font-size="8.1" fill="#111" stroke="#111" stroke-width="0.25" text-anchor="end">0.25</text>
<line x1="20.2" x2="22.9" y1="737.91" y2="737.91" stroke="#222" stroke-width="1.1"/>
<text x="16.8" y="757.38" font-size="8.1" fill="#111" stroke="#111" stroke-width="0.25" text-anchor="end">0.00</text>
<line x1="20.2" x2="22.9" y1="754.38" y2="754.38" stroke="#222" stroke-width="1.1"/>
<line x1="29.15" x2="29.15" y1="754.3" y2="757" stroke="#222" stroke-width="1.1"/>
<text transform="translate(34.95 760.6) rotate(-90)" font-size="8.1" fill="#111" stroke="#111" stroke-width="0.25" text-anchor="end">0e+00</text>
<line x1="46.35" x2="46.35" y1="754.3" y2="757" stroke="#222" stroke-width="1.1"/>
<text transform="translate(52.15 760.6) rotate(-90)" font-size="8.1" fill="#111" stroke="#111" stroke-width="0.25" text-anchor="end">2e-04</text>
<line x1="63.55" x2="63.55" y1="754.3" y2="757" stroke="#222" stroke-width="1.1"/>
<text transform="translate(69.35 760.6) rotate(-90)" font-size="8.1" fill="#111" stroke="#111" stroke-width="0.25" text-anchor="end">4e-04</text>
<line x1="80.75" x2="80.75" y1="754.3" y2="757" stroke="#222" stroke-width="1.1"/>
<text transform="translate(86.55 760.6) rotate(-90)" font-size="8.1" fill="#111" stroke="#111" stroke-width="0.25" text-anchor="end">6e-04</text>
<line x1="108.13" x2="108.13" y1="754.3" y2="757" stroke="#222" stroke-width="1.1"/>
<text transform="translate(113.93 760.6) rotate(-90)" font-size="8.1" fill="#111" stroke="#111" stroke-width="0.25" text-anchor="end">0e+00</text>
<line x1="125.33" x2="125.33" y1="754.3" y2="757" stroke="#222" stroke-width="1.1"/>
<text transform="translate(131.13 760.6) rotate(-90)" font-size="8.1" fill="#111" stroke="#111" stroke-width="0.25" text-anchor="end">2e-04</text>
<line x1="142.53" x2="142.53" y1="754.3" y2="757" stroke="#222" stroke-width="1.1"/>
<text transform="translate(148.33 760.6) rotate(-90)" font-size="8.1" fill="#111" stroke="#111" stroke-width="0.25" text-anchor="end">4e-04</text>
<line x1="159.73" x2="159.73" y1="754.3" y2="757" stroke="#222" stroke-width="1.1"/>
<text transform="translate(165.53 760.6) rotate(-90)" font-size="8.1" fill="#111" stroke="#111" stroke-width="0.25" text-anchor="end">6e-04</text>
<line x1="187.11" x2="187.11" y1="754.3" y2="757" stroke="#222" stroke-width="1.1"/>
<text transform="translate(192.91 760.6) rotate(-90)" font-size="8.1" fill="#111" stroke="#111" stroke-width="0.25" text-anchor="end">0e+00</text>
<line x1="204.31" x2="204.31" y1="754.3" y2="757" stroke="#222" stroke-width="1.1"/>
<text transform="translate(210.11 760.6) rotate(-90)" font-size="8.1" fill="#111" stroke="#111" stroke-width="0.25" text-anchor="end">2e-04</text>
<line x1="221.51" x2="221.51" y1="754.3" y2="757" stroke="#222" stroke-width="1.1"/>
<text transform="translate(227.31 760.6) rotate(-90)" font-size="8.1" fill="#111" stroke="#111" stroke-width="0.25" text-anchor="end">4e-04</text>
<line x1="238.71" x2="238.71" y1="754.3" y2="757" stroke="#222" stroke-width="1.1"/>
<text transform="translate(244.51 760.6) rotate(-90)" font-size="8.1" fill="#111" stroke="#111" stroke-width="0.25" text-anchor="end">6e-04</text>
<line x1="266.09" x2="266.09" y1="754.3" y2="757" stroke="#222" stroke-width="1.1"/>
<text transform="translate(271.89 760.6) rotate(-90)" font-size="8.1" fill="#111" stroke="#111" stroke-width="0.25" text-anchor="end">0e+00</text>
<line x1="283.29" x2="283.29" y1="754.3" y2="757" stroke="#222" stroke-width="1.1"/>
<text transform="translate(289.09 760.6) rotate(-90)" font-size="8.1" fill="#111" stroke="#111" stroke-width="0.25" text-anchor="end">2e-04</text>
<line x1="300.49" x2="300.49" y1="754.3" y2="757" stroke="#222" stroke-width="1.1"/>
<text transform="translate(306.29 760.6) rotate(-90)" font-size="8.1" fill="#111" stroke="#111" stroke-width="0.25" text-anchor="end">4e-04</text>
<line x1="317.69" x2="317.69" y1="754.3" y2="757" stroke="#222" stroke-width="1.1"/>
<text transform="translate(323.49 760.6) rotate(-90)" font-size="8.1" fill="#111" stroke="#111" stroke-width="0.25" text-anchor="end">6e-04</text>
<line x1="345.07" x2="345.07" y1="754.3" y2="757" stroke="#222" stroke-width="1.1"/>
<text transform="translate(350.87 760.6) rotate(-90)" font-size="8.1" fill="#111" stroke="#111" stroke-width="0.25" text-anchor="end">0e+00</text>
<line x1="362.27" x2="362.27" y1="754.3" y2="757" stroke="#222" stroke-width="1.1"/>
<text transform="translate(368.07 760.6) rotate(-90)" font-size="8.1" fill="#111" stroke="#111" stroke-width="0.25" text-anchor="end">2e-04</text>
<line x1="379.47" x2="379.47" y1="754.3" y2="757" stroke="#222" stroke-width="1.1"/>
<text transform="translate(385.27 760.6) rotate(-90)" font-size="8.1" fill="#111" stroke="#111" stroke-width="0.25" text-anchor="end">4e-04</text>
<line x1="396.67" x2="396.67" y1="754.3" y2="757" stroke="#222" stroke-width="1.1"/>
<text transform="translate(402.47 760.6) rotate(-90)" font-size="8.1" fill="#111" stroke="#111" stroke-width="0.25" text-anchor="end">6e-04</text>
<line x1="424.05" x2="424.05" y1="754.3" y2="757" stroke="#222" stroke-width="1.1"/>
<text transform="translate(429.85 760.6) rotate(-90)" font-size="8.1" fill="#111" stroke="#111" stroke-width="0.25" text-anchor="end">0e+00</text>
<line x1="441.25" x2="441.25" y1="754.3" y2="757" stroke="#222" stroke-width="1.1"/>
<text transform="translate(447.05 760.6) rotate(-90)" font-size="8.1" fill="#111" stroke="#111" stroke-width="0.25" text-anchor="end">2e-04</text>
<line x1="458.45" x2="458.45" y1="754.3" y2="757" stroke="#222" stroke-width="1.1"/>
<text transform="translate(464.25 760.6) rotate(-90)" font-size="8.1" fill="#111" stroke="#111" stroke-width="0.25" text-anchor="end">4e-04</text>
<line x1="475.65" x2="475.65" y1="754.3" y2="757" stroke="#222" stroke-width="1.1"/>
<text transform="translate(481.45 760.6) rotate(-90)" font-size="8.1" fill="#111" stroke="#111" stroke-width="0.25" text-anchor="end">6e-04</text>
<line x1="503.03" x2="503.03" y1="754.3" y2="757" stroke="#222" stroke-width="1.1"/>
<text transform="translate(508.83 760.6) rotate(-90)" font-size="8.1" fill="#111" stroke="#111" stroke-width="0.25" text-anchor="end">0e+00</text>
<line x1="520.23" x2="520.23" y1="754.3" y2="757" stroke="#222" stroke-width="1.1"/>
<text transform="translate(526.03 760.6) rotate(-90)" font-size="8.1" fill="#111" stroke="#111" stroke-width="0.25" text-anchor="end">2e-04</text>
<line x1="537.43" x2="537.43" y1="754.3" y2="757" stroke="#222" stroke-width="1.1"/>
<text transform="translate(543.23 760.6) rotate(-90)" font-size="8.1" fill="#111" stroke="#111" stroke-width="0.25" text-anchor="end">4e-04</text>
<line x1="554.63" x2="554.63" y1="754.3" y2="757" stroke="#222" stroke-width="1.1"/>
<text transform="translate(560.43 760.6) rotate(-90)" font-size="8.1" fill="#111" stroke="#111" stroke-width="0.25" text-anchor="end">6e-04</text>
<line x1="582.01" x2="582.01" y1="754.3" y2="757" stroke="#222" stroke-width="1.1"/>
<text transform="translate(587.81 760.6) rotate(-90)" font-size="8.1" fill="#111" stroke="#111" stroke-width="0.25" text-anchor="end">0e+00</text>
<line x1="599.21" x2="599.21" y1="754.3" y2="757" stroke="#222" stroke-width="1.1"/>
<text transform="translate(605.01 760.6) rotate(-90)" font-size="8.1" fill="#111" stroke="#111" stroke-width="0.25" text-anchor="end">2e-04</text>
<line x1="616.41" x2="616.41" y1="754.3" y2="757" stroke="#222" stroke-width="1.1"/>
<text transform="translate(622.21 760.6) rotate(-90)" font-size="8.1" fill="#111" stroke="#111" stroke-width="0.25" text-anchor="end">4e-04</text>
<line x1="633.61" x2="633.61" y1="754.3" y2="757" stroke="#222" stroke-width="1.1"/>
<text transform="translate(639.41 760.6) rotate(-90)" font-size="8.1" fill="#111" stroke="#111" stroke-width="0.25" text-anchor="end">6e-04</text>
<line x1="660.99" x2="660.99" y1="754.3" y2="757" stroke="#222" stroke-width="1.1"/>
<text transform="translate(666.79 760.6) rotate(-90)" font-size="8.1" fill="#111" stroke="#111" stroke-width="0.25" text-anchor="end">0e+00</text>
<line x1="678.19" x2="678.19" y1="754.3" y2="757" stroke="#222" stroke-width="1.1"/>
<text transform="translate(683.99 760.6) rotate(-90)" font-size="8.1" fill="#111" stroke="#111" stroke-width="0.25" text-anchor="end">2e-04</text>
<line x1="695.39" x2="695.39" y1="754.3" y2="757" stroke="#222" stroke-width="1.1"/>
<text transform="translate(701.19 760.6) rotate(-90)" font-size="8.1" fill="#111" stroke="#111" stroke-width="0.25" text-anchor="end">4e-04</text>
<line x1="712.59" x2="712.59" y1="754.3" y2="757" stroke="#222" stroke-width="1.1"/>
<text transform="translate(718.39 760.6) rotate(-90)" font-size="8.1" fill="#111" stroke="#111" stroke-width="0.25" text-anchor="end">6e-04</text>
<circle cx="626.9" cy="93.8" r="2.6" fill="#000"/>
<circle cx="202.4" cy="251.7" r="2.6" fill="#000"/>
<circle cx="352.7" cy="266.7" r="2.6" fill="#000"/>
<circle cx="510.9" cy="222.3" r="2.6" fill="#000"/>
<circle cx="690.9" cy="237" r="2.6" fill="#000"/>
<circle cx="130.6" cy="338" r="2.6" fill="#000"/>
<circle cx="123.6" cy="352.7" r="2.6" fill="#000"/>
<circle cx="187.5" cy="316" r="2.6" fill="#000"/>
<circle cx="296.2" cy="338" r="2.6" fill="#000"/>
<circle cx="138" cy="395" r="2.6" fill="#000"/>
<circle cx="352.7" cy="432" r="2.6" fill="#000"/>
<circle cx="483.7" cy="395" r="2.6" fill="#000"/>
<circle cx="668.9" cy="432" r="2.6" fill="#000"/>
<circle cx="296.2" cy="488.7" r="2.6" fill="#000"/>
<circle cx="432" cy="481.3" r="2.6" fill="#000"/>
<circle cx="589.9" cy="582.4" r="2.6" fill="#000"/>
<circle cx="397.4" cy="616.9" r="2.6" fill="#000"/>
<circle cx="431.9" cy="609.8" r="2.6" fill="#000"/>
<circle cx="510.9" cy="654" r="2.6" fill="#000"/>
<circle cx="555.4" cy="646.5" r="2.6" fill="#000"/>
<circle cx="81.2" cy="696" r="2.6" fill="#000"/>
<circle cx="88.9" cy="740" r="2.6" fill="#000"/>
<circle cx="274.1" cy="740.2" r="2.6" fill="#000"/>
<circle cx="352.9" cy="740.2" r="2.6" fill="#000"/>
<circle cx="683.7" cy="710.6" r="2.6" fill="#000"/>
<circle cx="424.6" cy="345.7" r="2.7" fill="#6fe81e"/>
<circle cx="668.6" cy="582.4" r="2.7" fill="#6fe81e"/>
<circle cx="510.9" cy="661.4" r="2.7" fill="#6fe81e"/>
<circle cx="589.9" cy="668.5" r="2.7" fill="#6fe81e"/>
<circle cx="669" cy="740.2" r="2.7" fill="#6fe81e"/>
<circle cx="266.6" cy="662.8" r="2.6" fill="#ffef30"/>
<circle cx="266.6" cy="664.9" r="2.6" fill="#ffef30"/>
<circle cx="345.6" cy="665.3" r="2.6" fill="#ffef30"/>
<circle cx="266.6" cy="744.2" r="2.6" fill="#ffef30"/>
<text x="541.3" y="632.3" font-size="30.2" font-weight="bold" fill="#dcdfdc" stroke="#dcdfdc" stroke-width="0.5">A</text>
<g stroke="#000" stroke-width="4.0" stroke-linecap="round" fill="none">
<line x1="413.2" x2="429" y1="441.7" y2="441.7"/>
<line x1="445.86" x2="461.66" y1="441.7" y2="441.7"/>
<line x1="478.52" x2="494.32" y1="441.7" y2="441.7"/>
<line x1="511.18" x2="526.98" y1="441.7" y2="441.7"/>
<line x1="543.84" x2="559.64" y1="441.7" y2="441.7"/>
<line x1="576.5" x2="592.3" y1="441.7" y2="441.7"/>
<line x1="609.16" x2="624.96" y1="441.7" y2="441.7"/>
<line x1="641.82" x2="657.62" y1="441.7" y2="441.7"/>
<line x1="674.48" x2="690.28" y1="441.7" y2="441.7"/>
<line x1="707.14" x2="722.94" y1="441.7" y2="441.7"/>
<line x1="729.9" x2="729.9" y1="452" y2="467.8"/>
<line x1="729.9" x2="729.9" y1="484.6" y2="500.4"/>
<line x1="729.9" x2="729.9" y1="517.2" y2="533"/>
<line x1="729.9" x2="729.9" y1="549.8" y2="565.6"/>
<line x1="729.9" x2="729.9" y1="582.4" y2="598.2"/>
<line x1="729.9" x2="729.9" y1="615" y2="630.8"/>
<line x1="729.9" x2="729.9" y1="647.6" y2="663.4"/>
<line x1="729.9" x2="729.9" y1="680.2" y2="696"/>
<line x1="729.9" x2="729.9" y1="712.8" y2="728.6"/>
<line x1="729.9" x2="729.9" y1="745.4" y2="755.9"/>
<line x1="433.1" x2="448.9" y1="755.9" y2="755.9"/>
<line x1="465.75" x2="481.55" y1="755.9" y2="755.9"/>
<line x1="498.4" x2="514.2" y1="755.9" y2="755.9"/>
<line x1="531.05" x2="546.85" y1="755.9" y2="755.9"/>
<line x1="563.7" x2="579.5" y1="755.9" y2="755.9"/>
<line x1="596.35" x2="612.15" y1="755.9" y2="755.9"/>
<line x1="629" x2="644.8" y1="755.9" y2="755.9"/>
<line x1="661.65" x2="677.45" y1="755.9" y2="755.9"/>
<line x1="694.3" x2="710.1" y1="755.9" y2="755.9"/>
<line x1="413.2" x2="417" y1="755.9" y2="755.9"/>
<line x1="726.4" x2="729.9" y1="755.9" y2="755.9"/>
<line x1="413.2" x2="413.2" y1="451" y2="466.8"/>
<line x1="413.2" x2="413.2" y1="483.66" y2="499.46"/>
<line x1="413.2" x2="413.2" y1="516.32" y2="532.12"/>
<line x1="413.2" x2="413.2" y1="548.98" y2="564.78"/>
<line x1="413.2" x2="413.2" y1="581.64" y2="597.44"/>
<line x1="413.2" x2="413.2" y1="614.3" y2="630.1"/>
<line x1="413.2" x2="413.2" y1="646.96" y2="662.76"/>
<line x1="413.2" x2="413.2" y1="679.62" y2="695.42"/>
<line x1="413.2" x2="413.2" y1="712.28" y2="728.08"/>
<line x1="413.2" x2="413.2" y1="744.94" y2="755.9"/>
</g>
<g stroke="#000" stroke-linecap="round" stroke-linejoin="round" fill="none">
<line x1="222" x2="508" y1="7.3" y2="7.3" stroke-width="4.2"/>
<line x1="776.9" x2="776.9" y1="293" y2="507" stroke-width="4"/>
<path d="M33.8 628V664.9H71" stroke-width="3.7"/>
</g>
<path d="M507.1 1.4L522.8 7.4L507.1 13.4Z" fill="#000"/>
<path d="M771 506.3L782.8 506.3L776.9 521.9Z" fill="#000"/>
<path d="M28.2 629.8L39.2 629.8L33.7 616.3Z" fill="#000"/>
<path d="M69.8 660L69.8 669.9L83.2 664.95Z" fill="#000"/>
<text x="362.6" y="33.2" font-size="20" font-weight="bold" fill="#000" stroke="#000" stroke-width="0.6">d4</text>
<text x="744.6" y="407.6" font-size="20" font-weight="bold" fill="#000" stroke="#000" stroke-width="0.6">d3</text>
<text x="37.2" y="624.6" font-size="20" font-weight="bold" fill="#000" stroke="#000" stroke-width="0.6">d2</text>
<text x="65.4" y="657.6" font-size="20" font-weight="bold" fill="#000" stroke="#000" stroke-width="0.6">d1</text>
</svg>
</body></html>
